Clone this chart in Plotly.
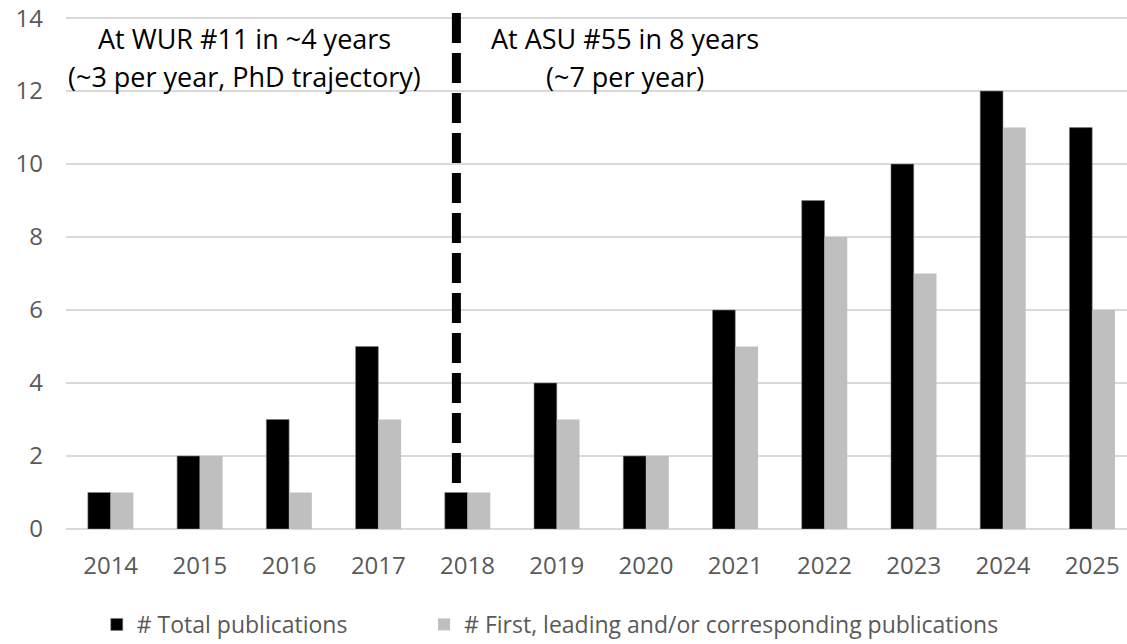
import plotly.graph_objects as go

years = ["2014", "2015", "2016", "2017", "2018", "2019",
         "2020", "2021", "2022", "2023", "2024", "2025"]
total_pubs = [1, 2, 3, 5, 1, 4, 2, 6, 9, 10, 12, 11]
first_pubs = [1, 2, 1, 3, 1, 3, 2, 5, 8, 7, 11, 6]
y_ticks = [0, 2, 4, 6, 8, 10, 12, 14]

FONT = "Open Sans"
TICK_GREY = "#595959"

fig = go.Figure()
fig.add_trace(go.Bar(
    x=years, y=total_pubs, name="# Total publications",
    marker=dict(color="#000000", line=dict(color="#7f7f7f", width=0.6)),
    legend="legend",
))
fig.add_trace(go.Bar(
    x=years, y=first_pubs, name="# First, leading and/or corresponding publications",
    marker=dict(color="#BFBFBF", line=dict(width=0)),
    legend="legend2",
))

# Divider between the two affiliations, through the 2018 total bar
fig.add_shape(
    type="line", xref="x", yref="y",
    x0=3.875, x1=3.875, y0=14.14, y1=0,
    line=dict(color="#000000", width=9, dash="30px,10px"),
    layer="above",
)

notes = [
    (1.5, 13.45, "At WUR #11 in ~4 years"),
    (1.5, 12.4, "(~3 per year, PhD trajectory)"),
    (5.76, 13.45, "At ASU #55 in 8 years"),
    (5.76, 12.4, "(~7 per year)"),
]
for nx, ny, txt in notes:
    fig.add_annotation(
        x=nx, y=ny, xref="x", yref="y", text=txt, showarrow=False,
        font=dict(family=FONT, size=27, color="#000000"),
        xanchor="center", yanchor="middle",
    )

legend_style = dict(
    orientation="h", yanchor="middle", y=-0.185, xanchor="left",
    font=dict(family=FONT, size=23, color=TICK_GREY),
    bgcolor="rgba(0,0,0,0)",
)

fig.update_layout(
    width=1127, height=644,
    margin=dict(l=66, r=0, t=13, b=115, autoexpand=False),
    paper_bgcolor="white", plot_bgcolor="white",
    barmode="group", bargap=0.49, bargroupgap=0,
    font=dict(family=FONT, color=TICK_GREY),
    showlegend=True,
    legend=dict(x=0.029, **legend_style),
    legend2=dict(x=0.3375, **legend_style),
)
fig.update_xaxes(
    type="category", range=[-0.5, 11.39],
    showgrid=False, showline=False, ticks="",
    ticklabelstandoff=20,
    tickfont=dict(family=FONT, size=24, color=TICK_GREY),
)
fig.update_yaxes(
    range=[0, 14.14], tickvals=y_ticks,
    showgrid=True, gridcolor="#D9D9D9", gridwidth=2,
    zeroline=True, zerolinecolor="#D9D9D9", zerolinewidth=2,
    showline=False, ticks="",
    ticklabelstandoff=22,
    tickfont=dict(family=FONT, size=24, color=TICK_GREY),
)

fig.write_html("out.html")
